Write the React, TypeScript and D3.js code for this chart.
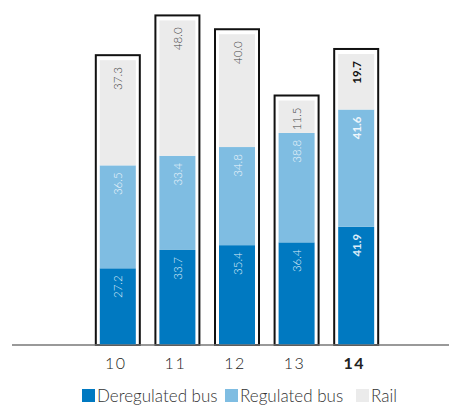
import React from "react";
import * as d3 from "d3";

const years = ["10", "11", "12", "13", "14"];
const deregulatedBus = [27.2, 33.7, 35.4, 36.4, 41.9];
const regulatedBus = [36.5, 33.4, 34.8, 38.8, 41.6];
const rail = [37.3, 48.0, 40.0, 11.5, 19.7];
const seriesNames = ["Deregulated bus", "Regulated bus", "Rail"];
const highlightYear = "14";

const colors = ["#0079c1", "#7fbde2", "#ebebeb"];
const labelColors = ["#dcecf8", "#eef6fc", "#444444"];

const W = 449;
const H = 405;
const baseY = 345;
const font = "'Lato', 'Open Sans', sans-serif";

export default function App() {
  const x = d3.scaleBand<string>().domain(years).range([89.5, 384.5]).paddingInner(0.25).paddingOuter(0.1);
  const y = d3.scaleLinear().domain([0, 120]).range([baseY, baseY - 120 * 2.82]);

  const rows = years.map((yr, i) => ({ yr, deregulated: deregulatedBus[i], regulated: regulatedBus[i], rail: rail[i] }));
  const stack = d3.stack<any>().keys(["deregulated", "regulated", "rail"])(rows);

  const barW = 36;
  const pad = 4;

  const legend = [
    { x: 82, i: 0 },
    { x: 225, i: 1 },
    { x: 356, i: 2 },
  ];

  return (
    <svg width={W} height={H} style={{ position: "absolute", left: 0, top: 0 }}>
      {/* outline boxes around each stacked column */}
      {rows.map((r, i) => {
        const cx = (x(r.yr) as number) + x.bandwidth() / 2;
        const top = y(r.deregulated + r.regulated + r.rail) - pad - 1;
        return (
          <rect
            key={"box" + i}
            x={cx - barW / 2 - pad}
            y={top}
            width={barW + pad * 2}
            height={baseY - top}
            fill="#fff"
            stroke="#111"
            strokeWidth={2}
          />
        );
      })}
      {stack.map((layer, li) =>
        layer.map((d, i) => {
          const cx = (x(years[i]) as number) + x.bandwidth() / 2;
          const y0 = y(d[0]);
          const y1 = y(d[1]);
          const val = d[1] - d[0];
          const bold = years[i] === highlightYear;
          return (
            <g key={li + "-" + i}>
              <rect x={cx - barW / 2} y={y1} width={barW} height={y0 - y1} fill={colors[li]} />
              <text
                transform={`translate(${cx},${y1 + 7}) rotate(-90)`}
                textAnchor="end"
                dominantBaseline="central"
                fontFamily={font}
                fontSize={11.5}
                fontWeight={bold ? 700 : 300}
                fill={bold && li === 2 ? "#111" : labelColors[li]}
              >
                {val.toFixed(1)}
              </text>
            </g>
          );
        })
      )}
      <line x1={12} x2={449} y1={baseY} y2={baseY} stroke="#777" strokeWidth={1.5} />
      {years.map((yr) => (
        <text
          key={"t" + yr}
          x={(x(yr) as number) + x.bandwidth() / 2 - 2}
          y={369}
          textAnchor="middle"
          fontFamily={font}
          fontSize={16}
          letterSpacing={1.5}
          fontWeight={yr === highlightYear ? 700 : 300}
          fill="#222"
        >
          {yr}
        </text>
      ))}
      {/* legend */}
      {legend.map((l) => (
        <g key={"lg" + l.i}>
          <rect x={l.x} y={389} width={13} height={13} fill={colors[l.i]} />
          <text x={l.x + 15} y={402} fontFamily={font} fontSize={17} fontWeight={300} fill="#333">
            {seriesNames[l.i]}
          </text>
        </g>
      ))}
    </svg>
  );
}
